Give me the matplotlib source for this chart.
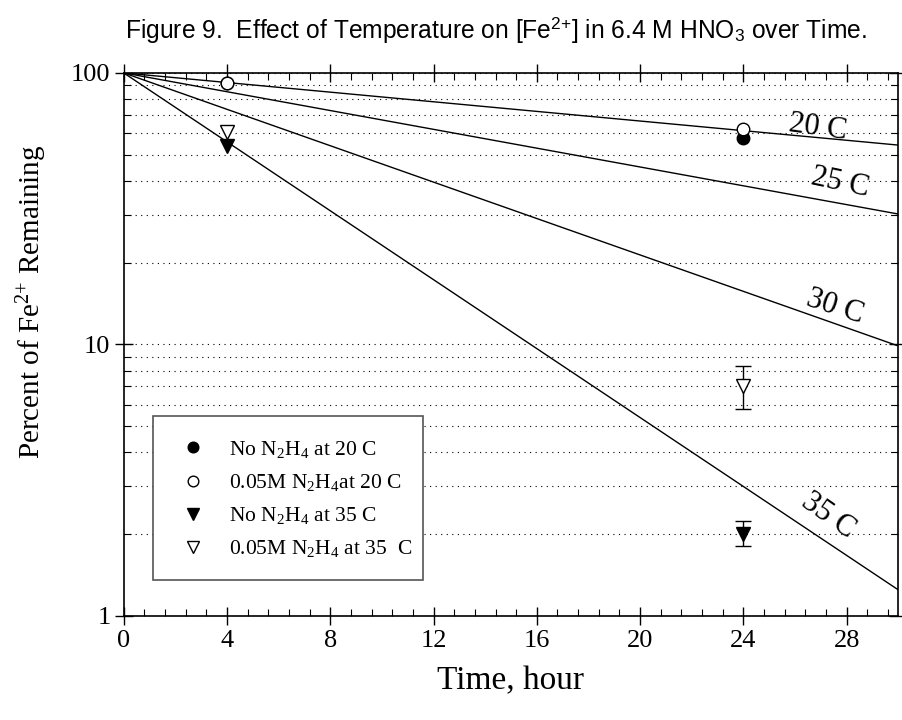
import matplotlib
matplotlib.use("Agg")
import matplotlib.pyplot as plt
from matplotlib.patches import Rectangle
from matplotlib.ticker import FixedLocator, MultipleLocator, NullFormatter
import numpy as np

# fitted first-order decay lines, % remaining at start and end (0 and 30 h)
line_hours = [0, 30]
line_temps = ["20 C", "25 C", "30 C", "35 C"]
line_ends = [54.2, 30.2, 9.86, 1.245]

# measured points
pt_hours = [4, 24]
no_n2h4_20 = [91.5, 57.7]
n2h4_20 = [91.5, 62.2]
no_n2h4_35 = [53.9, 2.0]
n2h4_35 = [60.7, 7.0]
# error bar ranges at 24 h (low, high)
no_n2h4_35_err = (1.80, 2.23)
n2h4_35_err = (5.8, 8.35)

# label spots for the lines (hour, percent, angle)
lbl_pos = [(26.9, 62.9, -8), (27.75, 39.3, -12), (27.55, 13.7, -18), (27.3, 2.33, -35)]

plt.rcParams["font.family"] = ["Liberation Serif", "DejaVu Serif"]
plt.rcParams["mathtext.fontset"] = "custom"
plt.rcParams["mathtext.rm"] = "Liberation Serif"
plt.rcParams["mathtext.it"] = "Liberation Serif:italic"
plt.rcParams["mathtext.sf"] = "Liberation Sans"

W, H = 903, 720
ax_l, ax_t, ax_r, ax_b = 123.7, 72.9, 898.3, 615.7
fig = plt.figure(figsize=(W / 100, H / 100), dpi=100)
ax = fig.add_axes([ax_l / W, 1 - ax_b / H, (ax_r - ax_l) / W, (ax_b - ax_t) / H])


def axfrac(px, py):
    return (px - ax_l) / (ax_r - ax_l), (ax_b - py) / (ax_b - ax_t)


for end in line_ends:
    ax.plot(line_hours, [100, end], color="black", lw=1.0, zorder=3)

h1 = ax.plot(pt_hours, no_n2h4_20, "o", ms=9, mfc="black", mec="black", ls="none", zorder=5)[0]
h2 = ax.plot(pt_hours, n2h4_20, "o", ms=9, mfc="white", mec="black", mew=1.0, ls="none", zorder=6)[0]
ax.errorbar(pt_hours[1:], no_n2h4_35[1:], yerr=[[no_n2h4_35[1] - no_n2h4_35_err[0]],
            [no_n2h4_35_err[1] - no_n2h4_35[1]]], fmt="none", ecolor="black",
            elinewidth=1, capsize=5.5, capthick=1, zorder=4)
ax.errorbar(pt_hours[1:], n2h4_35[1:], yerr=[[n2h4_35[1] - n2h4_35_err[0]],
            [n2h4_35_err[1] - n2h4_35[1]]], fmt="none", ecolor="black",
            elinewidth=1, capsize=5.5, capthick=1, zorder=4)
h3 = ax.plot(pt_hours, no_n2h4_35, "v", ms=10, mfc="black", mec="black", ls="none", zorder=5)[0]
h4 = ax.plot(pt_hours, n2h4_35, "v", ms=10, mfc="white", mec="black", mew=1.0, ls="none", zorder=6)[0]

for name, (x, y, rot) in zip(line_temps, lbl_pos):
    ax.text(x, y, name, fontsize=22, rotation=rot, ha="center", va="center",
            rotation_mode="anchor", zorder=4)

ax.set_yscale("log")
ax.set_xlim(0, 30)
ax.set_ylim(1, 100)
ax.xaxis.set_major_locator(MultipleLocator(4))
ax.xaxis.set_minor_locator(MultipleLocator(0.8))
ax.yaxis.set_major_locator(FixedLocator([1, 10, 100]))
ax.yaxis.set_minor_locator(FixedLocator([m * d for d in (1, 10) for m in range(2, 10)]))
ax.yaxis.set_minor_formatter(NullFormatter())
ax.set_yticklabels(["1", "10", "100"])
ax.tick_params(which="major", direction="inout", length=13, width=1, labelsize=19,
               top=True, right=True)
ax.tick_params(which="minor", direction="in", length=5, width=0.8, top=True, right=True)
ax.tick_params(axis="x", which="major", pad=4)
ax.tick_params(axis="y", which="major", pad=3)
for s in ax.spines.values():
    s.set_linewidth(1.2)

ax.grid(True, axis="y", which="both", color="black", lw=0.8, ls=(0, (1, 4)), zorder=1)
ax.set_axisbelow(True)

# legend box
x0, y1 = axfrac(153, 416)
x1, y0 = axfrac(423, 580)
ax.add_patch(Rectangle((x0, y0), x1 - x0, y1 - y0, transform=ax.transAxes,
                       facecolor="white", edgecolor="#555555", lw=1.2, zorder=9))
leg = ax.legend([h1, h2, h3, h4],
                [r"No N$_2$H$_4$ at 20 C", r"0.05M N$_2$H$_4$at 20 C",
                 r"No N$_2$H$_4$ at 35 C", r"0.05M N$_2$H$_4$ at 35  C"],
                loc="upper left", bbox_to_anchor=axfrac(176, 439),
                borderaxespad=0, borderpad=0, fontsize=15.5, frameon=False,
                handletextpad=0.84, labelspacing=0.56, handlelength=1.6,
                markerscale=0.85)
leg.set_zorder(10)

fig.text(496 / W, 1 - 30 / H,
         r"Figure 9.  Effect of Temperature on [Fe$^{\mathsf{2{+}}}$] in 6.4 M HNO$_{\mathsf{3}}$ over Time.",
         family="Liberation Sans", fontsize=17.7, ha="center", va="center")
fig.text(32 / W, 1 - 302 / H, r"Percent of Fe$^{2{+}}$ Remaining", fontsize=21,
         rotation=90, ha="center", va="center")
fig.text(511 / W, 1 - 681 / H, "Time, hour", fontsize=24, ha="center", va="center")

fig.savefig("out.png", dpi=100)
